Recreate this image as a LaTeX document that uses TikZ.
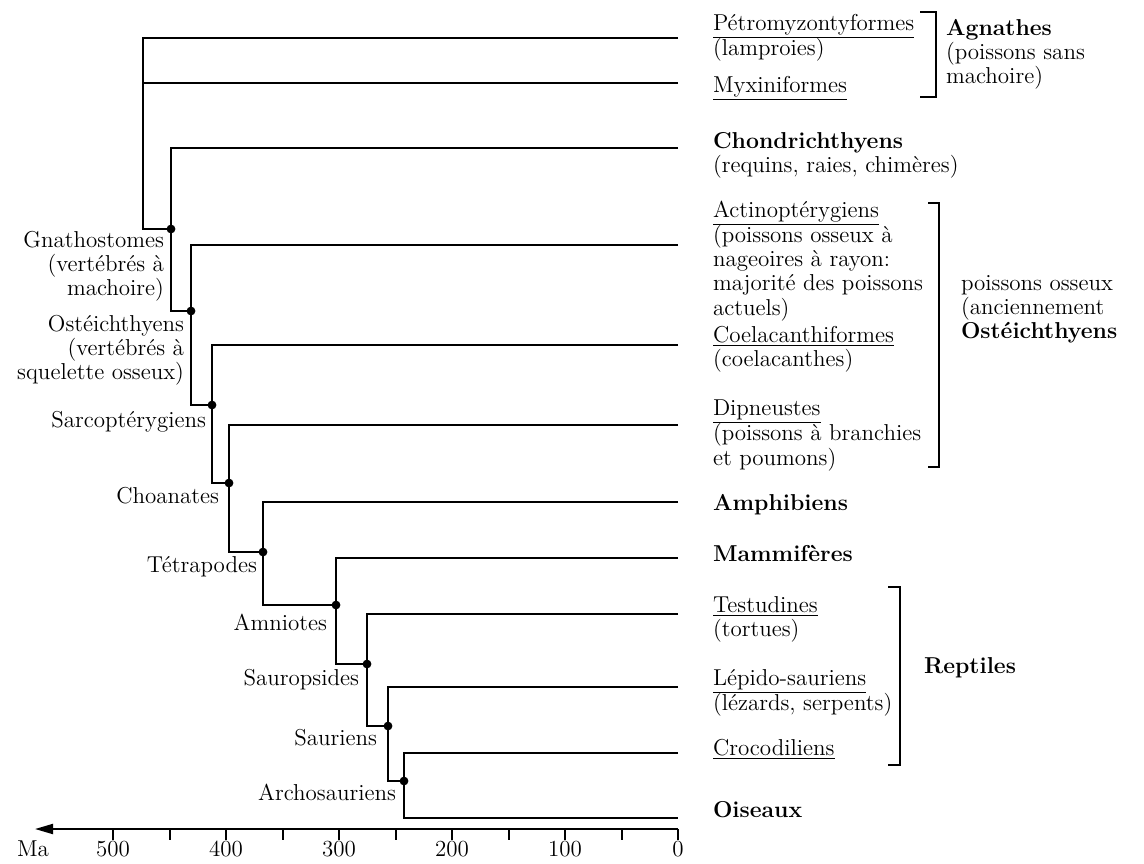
\documentclass[tikz,border=0pt]{standalone}
\usetikzlibrary{arrows.meta, positioning, calc}
\newcommand{\stk}[2]{\begin{tabular}[t]{@{}#1@{}}#2\end{tabular}}
\begin{document}
\begin{tikzpicture}[x=0.5pt, y=-0.5pt, line width=1pt,
    every node/.style={inner sep=0pt, font=\fontsize{11.5}{12}\selectfont},
    leaf/.style={anchor=base west},
    clade/.style={anchor=base east},
    grp/.style={anchor=base west}]
    \useasboundingbox (0,0) rectangle (1144,863);

    % leaf ends
    \coordinate (lpetro)   at (678,38);
    \coordinate (lmyxi)    at (678,83);
    \coordinate (lchondri) at (678,148);
    \coordinate (lactino)  at (678,245);
    \coordinate (lcoela)   at (678,345);
    \coordinate (ldipn)    at (678,425);
    \coordinate (lamphi)   at (678,502);
    \coordinate (lmammi)   at (678,558);
    \coordinate (ltestu)   at (678,614);
    \coordinate (llepido)  at (678,687);
    \coordinate (lcroco)   at (678,753);
    \coordinate (lois)     at (678,818);

    % clades
    \coordinate (root)    at (143,229);
    \coordinate (gnatho)  at (171,229);
    \coordinate (osteich) at (191,311);
    \coordinate (sarco)   at (212,405);
    \coordinate (choan)   at (229,483);
    \coordinate (tetra)   at (263,552);
    \coordinate (amnio)   at (336,605);
    \coordinate (sauro)   at (367,664);
    \coordinate (sauri)   at (388,726);
    \coordinate (archo)   at (404,781);

    \draw (lpetro) -| (root) -- (gnatho);
    \draw (lmyxi) -- (lmyxi -| root);
    \draw (lchondri) -| (gnatho) |- (osteich);
    \draw (lactino) -| (osteich) |- (sarco);
    \draw (lcoela) -| (sarco) |- (choan);
    \draw (ldipn) -| (choan) |- (tetra);
    \draw (lamphi) -| (tetra) |- (amnio);
    \draw (lmammi) -| (amnio) |- (sauro);
    \draw (ltestu) -| (sauro) |- (sauri);
    \draw (llepido) -| (sauri) |- (archo);
    \draw (lcroco) -| (archo) |- (lois);
    \foreach \n in {gnatho,osteich,sarco,choan,tetra,amnio,sauro,sauri,archo}
        \fill (\n) circle (2.2pt);

    \node[clade] (ngnatho)  at (165,247) {\stk{r}{Gnathostomes\\(vertébrés à\\machoire)}};
    \node[clade] (nosteich) at (185,331) {\stk{r}{Ostéichthyens\\(vertébrés à\\squelette osseux)}};
    \node[clade] (nsarco)   at (207,427) {Sarcoptérygiens};
    \node[clade] (nchoan)   at (220,503) {Choanates};
    \node[clade] (ntetra)   at (258,572) {Tétrapodes};
    \node[clade] (namnio)   at (328,630) {Amniotes};
    \node[clade] (nsauro)   at (360,685) {Sauropsides};
    \node[clade] (nsauri)   at (378,745) {Sauriens};
    \node[clade] (narcho)   at (397,800) {Archosauriens};

    % leaf labels
    \node[leaf] (tpetro)   at (712,30)  {\stk{l}{\underline{Pétromyzontyformes}\\(lamproies)}};
    \node[leaf] (tmyxi)    at (712,92)  {\underline{Myxiniformes}};
    \node[leaf] (tchondri) at (712,148) {\stk{l}{\textbf{Chondrichthyens}\\(requins, raies, chimères)}};
    \node[leaf] (tactino)  at (712,217) {\stk{l}{\underline{Actinoptérygiens}\\(poissons osseux à\\nageoires à rayon:\\majorité des poissons\\actuels)}};
    \node[leaf] (tcoela)   at (712,342) {\stk{l}{\underline{Coelacanthiformes}\\(coelacanthes)}};
    \node[leaf] (tdipn)    at (712,415) {\stk{l}{\underline{Dipneustes}\\(poissons à branchies\\et poumons)}};
    \node[leaf] (tamphi)   at (712,510) {\textbf{Amphibiens}};
    \node[leaf] (tmammi)   at (712,561) {\textbf{Mammifères}};
    \node[leaf] (ttestu)   at (712,612) {\stk{l}{\underline{Testudines}\\(tortues)}};
    \node[leaf] (tlepido)  at (712,685) {\stk{l}{\underline{Lépido-sauriens}\\(lézards, serpents)}};
    \node[leaf] (tcroco)   at (712,755) {\underline{Crocodiliens}};
    \node[leaf] (tois)     at (712,817) {\textbf{Oiseaux}};

    % groups
    \coordinate (agtop) at (936,12);
    \coordinate (agbot) at (936,97);
    \draw ($(agtop)+(-16,0)$) -- (agtop) -- (agbot) -- ++(-16,0);
    \node[grp] (gagn) at (945,35) {\stk{l}{\textbf{Agnathes}\\(poissons sans\\machoire)}};

    \coordinate (ostop) at (939,203);
    \coordinate (osbot) at (939,467);
    \draw ($(ostop)+(-11,0)$) -- (ostop) -- (osbot) -- ++(-11,0);
    \node[grp] (gosse) at (960,290) {\stk{l}{poissons osseux\\(anciennement\\\textbf{Ostéichthyens}}};

    \coordinate (retop) at (900,587);
    \coordinate (rebot) at (900,765);
    \draw ($(retop)+(-12,0)$) -- (retop) -- (rebot) -- ++(-12,0);
    \node[grp] (grept) at (923,673) {\textbf{Reptiles}};

    % time axis
    \coordinate (axzero) at (678,829);
    \coordinate (axend)  at (35,829);
    \draw[-{Triangle[length=9pt,width=5pt]}] (axzero) -- (axend);
    \foreach \t in {0,50,...,500}
        \draw ($(axzero)+(-1.13*\t,0)$) -- ++(0,11);
    \foreach \t in {0,100,...,500}
        \node[anchor=base] (m\t) at ($(axzero)+(-1.13*\t,27)$) {\t};
    \node[anchor=base] (ma) at (33,856) {Ma};
\end{tikzpicture}
\end{document}
